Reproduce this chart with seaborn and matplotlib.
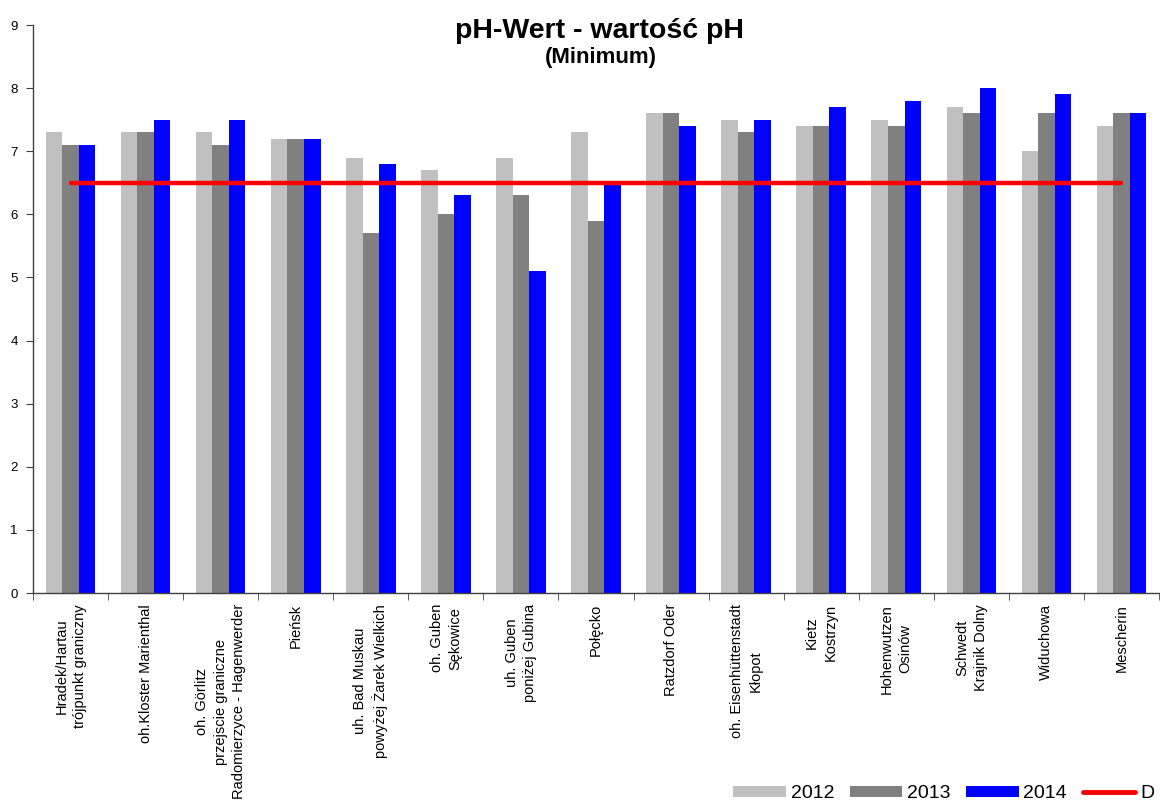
import matplotlib
matplotlib.use("Agg")
import matplotlib.pyplot as plt
import seaborn as sns
import pandas as pd
from matplotlib.patches import Patch
from matplotlib.lines import Line2D

sites = [
    "Hradek/Hartau\ntrójpunkt graniczny",
    "oh.Kloster Marienthal",
    "oh. Görlitz\nprzejscie graniczne\nRadomierzyce - Hagenwerder",
    "Pieńsk",
    "uh. Bad Muskau\npowyżej Żarek Wielkich",
    "oh. Guben\nSękowice",
    "uh. Guben\nponiżej Gubina",
    "Połęcko",
    "Ratzdorf Oder",
    "oh. Eisenhüttenstadt\nKłopot",
    "Kietz\nKostrzyn",
    "Hohenwutzen\nOsinów",
    "Schwedt\nKrajnik Dolny",
    "Widuchowa",
    "Mescherin",
]
v2012 = [7.3, 7.3, 7.3, 7.2, 6.9, 6.7, 6.9, 7.3, 7.6, 7.5, 7.4, 7.5, 7.7, 7.0, 7.4]
v2013 = [7.1, 7.3, 7.1, 7.2, 5.7, 6.0, 6.3, 5.9, 7.6, 7.3, 7.4, 7.4, 7.6, 7.6, 7.6]
v2014 = [7.1, 7.5, 7.5, 7.2, 6.8, 6.3, 5.1, 6.5, 7.4, 7.5, 7.7, 7.8, 8.0, 7.9, 7.6]
limit_D = [6.5, 6.5, 6.5, 6.5, 6.5, 6.5, 6.5, 6.5, 6.5, 6.5, 6.5, 6.5, 6.5, 6.5, 6.5]
years = ["2012", "2013", "2014"]
colors = ["#c0c0c0", "#808080", "#0000ff"]

rows = []
for y, vals in zip(years, [v2012, v2013, v2014]):
    for s, v in zip(sites, vals):
        rows.append({"site": s, "year": y, "value": v})
df = pd.DataFrame(rows)

sns.set_style("white")
plt.rcParams["font.family"] = ["Liberation Sans", "DejaVu Sans"]
plt.rcParams["text.color"] = "black"
plt.rcParams["xtick.color"] = "black"
plt.rcParams["ytick.color"] = "black"

fig = plt.figure(figsize=(11.6, 8.05), dpi=100)
ax = fig.add_axes([33 / 1160, 1 - 593 / 805, (1159 - 33) / 1160, (593 - 25) / 805])

sns.barplot(data=df, x="site", y="value", hue="year", order=sites, hue_order=years,
            palette=colors, width=0.66, gap=0, ax=ax, legend=False,
            linewidth=0, saturation=1)
ax.plot(range(len(sites)), limit_D, color="#ff0000", lw=3.2, solid_capstyle="round", zorder=5)

ax.set_xlim(-0.5, len(sites) - 0.5)
ax.set_ylim(0, 9)
ax.set_yticks(range(0, 10))
ax.set_xlabel("")
ax.set_ylabel("")

for sp in ["top", "right"]:
    ax.spines[sp].set_visible(False)
for sp in ["left", "bottom"]:
    ax.spines[sp].set_color("#404040")
    ax.spines[sp].set_linewidth(1.0)

ax.tick_params(axis="y", which="major", direction="out", length=5, color="#404040",
               labelsize=9.5, left=True, pad=6, labelcolor="black")
ax.set_xticks(range(len(sites)))
ax.set_xticklabels(sites, rotation=90, ha="center", va="top", fontsize=10.5,
                   multialignment="center", linespacing=1.4, color="black")
ax.tick_params(axis="x", which="major", length=0, pad=8)
ax.set_xticks([i - 0.5 for i in range(len(sites) + 1)], minor=True)
ax.tick_params(axis="x", which="minor", direction="out", length=5, color="#404040", bottom=True)

fig.text(0.517, 1 - 31 / 805, "pH-Wert - wartość pH", ha="center", va="center",
         fontsize=20.5, fontweight="bold", color="black")
fig.text(0.518, 1 - 58 / 805, "(Minimum)", ha="center", va="center",
         fontsize=16, fontweight="bold", color="black")

handles = [Patch(facecolor=c, edgecolor="none") for c in colors]
handles.append(Line2D([0], [0], color="#ff0000", lw=3.5, solid_capstyle="round"))
labels = years + ["D"]
leg = fig.legend(handles, labels, loc="lower right", bbox_to_anchor=(1157 / 1160, 0.0), ncol=4,
                 frameon=False, fontsize=14, handlelength=2.7, handleheight=0.5,
                 handletextpad=0.25, columnspacing=0.8, borderpad=0.15, borderaxespad=0)

fig.savefig("out.png", dpi=100)
